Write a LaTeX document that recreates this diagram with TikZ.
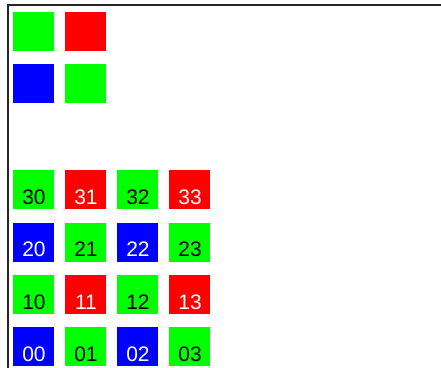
\documentclass[tikz,border=0pt]{standalone}
\usepackage{fontspec}
\setmainfont{Liberation Sans}
\definecolor{cg}{RGB}{0,255,0}
\definecolor{cr}{RGB}{255,0,0}
\definecolor{cb}{RGB}{0,0,255}
\begin{document}
\begin{tikzpicture}[x=1pt,y=-1pt,
  cell/.style={minimum width=41pt,minimum height=39pt,inner sep=0pt,outer sep=0pt,anchor=north west,draw=none},
  lbl/.style={anchor=base,inner sep=0pt,font=\fontsize{21}{21}\selectfont},
  frame/.style={line width=2pt,draw=black!85}]
\useasboundingbox (0,0) rectangle (441,367);
\coordinate (ftl) at (8,5);
\coordinate (fbl) at (8,368);
\coordinate (ftr) at (442,5);
\draw[frame] (fbl) -- (ftl) -- (ftr);
% top small grid
\node[cell,fill=cg] (a0) at (13,12) {};
\node[cell,fill=cr] (a1) at (65,12) {};
\node[cell,fill=cb] (a2) at (13,64) {};
\node[cell,fill=cg] (a3) at (65,64) {};
% numbered grid
\foreach \r/\yy in {3/170,2/222.5,1/275,0/327}{
  \foreach \c/\xx in {0/13,1/65,2/117,3/169}{
    \pgfmathtruncatemacro{\odd}{mod(\r,2)}
    \pgfmathtruncatemacro{\codd}{mod(\c,2)}
    \ifnum\codd=1
      \ifnum\odd=1 \def\fc{cr}\def\tc{white}\else \def\fc{cg}\def\tc{black}\fi
    \else
      \ifnum\odd=1 \def\fc{cg}\def\tc{black}\else \def\fc{cb}\def\tc{white}\fi
    \fi
    \node[cell,fill=\fc] (c\r\c) at (\xx,\yy) {};
    \node[lbl,text=\tc] (t\r\c) at ([yshift=4.7pt,xshift=0.5pt]c\r\c.south) {\r\c};
  }
}
\end{tikzpicture}
\end{document}
